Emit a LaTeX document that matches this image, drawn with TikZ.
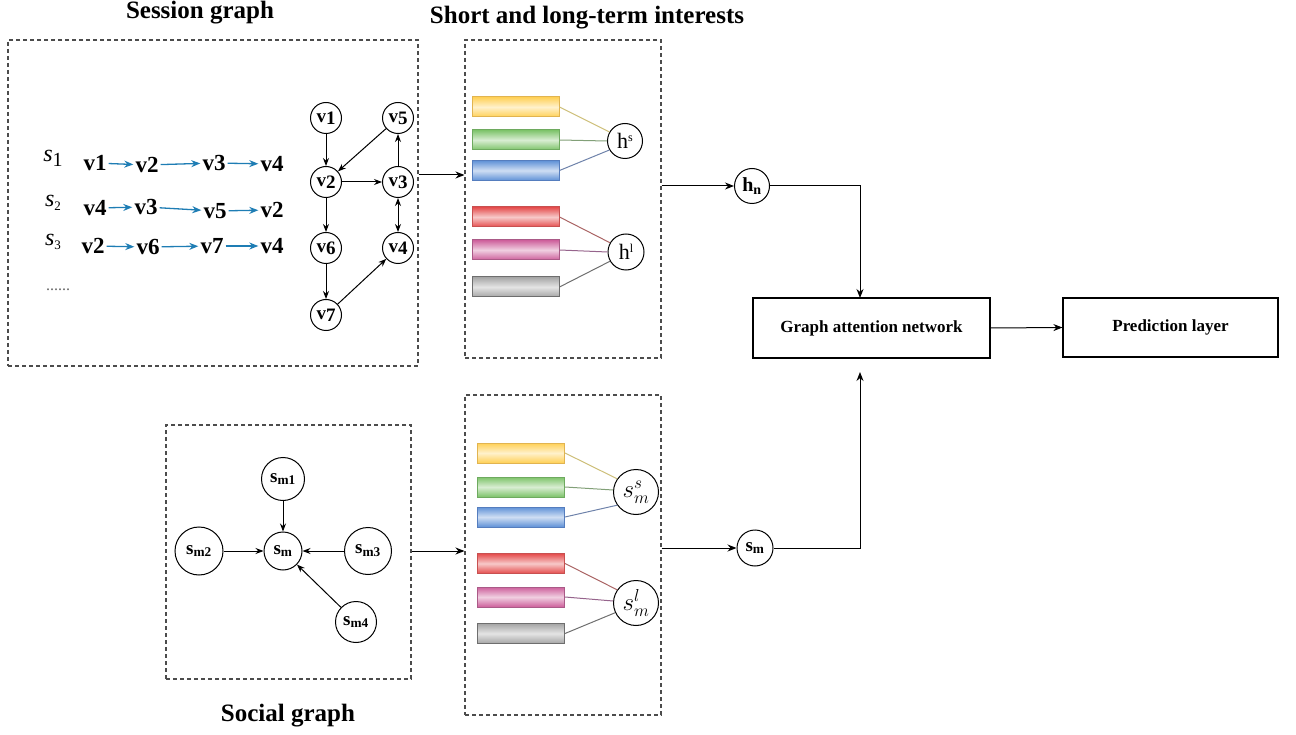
\documentclass[tikz,border=0pt]{standalone}
\usepackage{fontspec}
\setmainfont{Liberation Serif}
\usetikzlibrary{arrows.meta,shadings}
\definecolor{seqblue}{RGB}{30,125,180}
\definecolor{cyel}{RGB}{255,208,85}
\definecolor{cyelb}{RGB}{225,180,80}
\definecolor{cgrn}{RGB}{125,195,105}
\definecolor{cgrnb}{RGB}{110,170,95}
\definecolor{cblu}{RGB}{95,145,215}
\definecolor{cblub}{RGB}{85,125,190}
\definecolor{cred}{RGB}{228,75,75}
\definecolor{credb}{RGB}{200,80,80}
\definecolor{cpnk}{RGB}{205,95,155}
\definecolor{cpnkb}{RGB}{170,90,135}
\definecolor{cgry}{RGB}{165,165,165}
\definecolor{cgryb}{RGB}{110,110,110}
\definecolor{lyel}{RGB}{205,190,120}
\definecolor{lgrn}{RGB}{130,160,120}
\definecolor{lblu}{RGB}{110,130,170}
\definecolor{lred}{RGB}{170,100,100}
\definecolor{lpnk}{RGB}{150,100,140}
\definecolor{lgry}{RGB}{110,110,110}
\begin{document}
\begin{tikzpicture}[x=1pt,y=-1pt,
  dbox/.style={draw=black!70, dash pattern=on 4pt off 3pt, line width=1.1pt, inner sep=0pt},
  ttl/.style={font=\fontsize{25}{28}\selectfont\bfseries},
  vn/.style={circle, draw, line width=1pt, minimum size=31pt, inner sep=0pt, font=\fontsize{19}{20}\selectfont\bfseries},
  sq/.style={font=\fontsize{23}{24}\selectfont\bfseries, inner sep=1pt},
  sl/.style={font=\fontsize{24}{26}\selectfont, inner sep=1pt},
  barrow/.style={-{Stealth[length=9pt,width=7pt]}, draw=seqblue, line width=1.3pt, shorten <=1pt, shorten >=1pt},
  arr/.style={-{Stealth[length=9pt,width=7pt]}, line width=1pt},
  garr/.style={-{Stealth[length=8pt,width=6pt]}, line width=1pt},
  bar/.style n args={2}{minimum width=87pt, minimum height=20pt, inner sep=0pt, draw=#2, line width=1pt, top color=#1, bottom color=#1, middle color=#1!30!white},
  cn/.style={circle, draw, line width=1pt, inner sep=0pt, font=\fontsize{22}{24}\selectfont},
  sn/.style={circle, draw, line width=1pt, inner sep=0pt, font=\fontsize{19}{20}\selectfont\bfseries},
  blk/.style={draw, line width=1.2pt, inner sep=0pt, font=\fontsize{17}{20}\selectfont\bfseries}
]
\useasboundingbox (0,0) rectangle (1296,735);

% titles
\node[ttl] (t1) at (200,13) {Session graph};
\node[ttl] (t2) at (587,18) {Short and long-term interests};
\node[ttl] (t3) at (288,716) {Social graph};

% boxes
\node[dbox, minimum width=410pt, minimum height=326pt] (sess) at (213,203) {};
\node[dbox, minimum width=196pt, minimum height=318pt] (box2) at (563,199) {};
\node[dbox, minimum width=245pt, minimum height=254pt] (soc) at (288.5,552) {};
\node[dbox, minimum width=196pt, minimum height=320pt] (box4) at (563,555) {};

% sequences
\node[sl] (s1) at (53,158) {\itshape s\raisebox{-5pt}{\upshape\fontsize{20}{20}\selectfont 1}};
\node[sl] (s2) at (53,203) {\itshape s\raisebox{-4pt}{\upshape\fontsize{13}{13}\selectfont 2}};
\node[sl] (s3) at (53,242) {\itshape s\raisebox{-4pt}{\upshape\fontsize{13}{13}\selectfont 3}};

\node[sq] (a1) at (95,163) {v1};
\node[sq] (a2) at (147,165) {v2};
\node[sq] (a3) at (214,163) {v3};
\node[sq] (a4) at (272,164) {v4};
\node[sq] (b1) at (95,208) {v4};
\node[sq] (b2) at (146,207) {v3};
\node[sq] (b3) at (215,211) {v5};
\node[sq] (b4) at (272,210) {v2};
\node[sq] (c1) at (93,246) {v2};
\node[sq] (c2) at (148,247) {v6};
\node[sq] (c3) at (212,246) {v7};
\node[sq] (c4) at (272,246) {v4};
\draw[barrow] (a1) -- (a2);
\draw[barrow] (a2) -- (a3);
\draw[barrow] (a3) -- (a4);
\draw[barrow] (b1) -- (b2);
\draw[barrow] (b2) -- (b3);
\draw[barrow] (b3) -- (b4);
\draw[barrow] (c1) -- (c2);
\draw[barrow] (c2) -- (c3);
\draw[barrow] (c3) -- (c4);
\node[font=\fontsize{16}{16}\selectfont, text=black!60] (dots) at (58,290) {......};

% session graph
\node[vn] (v1) at (326,118) {v\raisebox{-2pt}{1}};
\node[vn] (v5) at (398,118) {v\raisebox{-2pt}{5}};
\node[vn] (v2) at (326,182) {v\raisebox{-2pt}{2}};
\node[vn] (v3) at (398,182) {v\raisebox{-2pt}{3}};
\node[vn] (v6) at (326,248) {v\raisebox{-2pt}{6}};
\node[vn] (v4) at (398,248) {v\raisebox{-2pt}{4}};
\node[vn] (v7) at (326,315) {v\raisebox{-2pt}{7}};
\draw[garr] (v1) -- (v2);
\draw[garr] (v5) -- (v2);
\draw[garr] (v2) -- (v3);
\draw[garr] (v3) -- (v5);
\draw[{Stealth[length=8pt,width=6pt]}-{Stealth[length=8pt,width=6pt]}, line width=1pt] (v3) -- (v4);
\draw[garr] (v2) -- (v6);
\draw[garr] (v6) -- (v7);
\draw[garr] (v7) -- (v4);

% interest bars (top)
\node[bar={cyel}{cyelb}] (y1) at (515.5,107) {};
\node[bar={cgrn}{cgrnb}] (g1) at (515.5,140) {};
\node[bar={cblu}{cblub}] (u1) at (515.5,170.5) {};
\node[bar={cred}{credb}] (r1) at (515.5,217) {};
\node[bar={cpnk}{cpnkb}] (p1) at (515.5,250) {};
\node[bar={cgry}{cgryb}] (k1) at (515.5,287) {};
\node[cn, minimum size=35pt] (hs) at (625,141) {h\raisebox{7pt}{\fontsize{12}{12}\selectfont s}};
\node[cn, minimum size=36pt] (hl) at (626,252) {h\raisebox{7pt}{\fontsize{12}{12}\selectfont l}};
\draw[lyel, line width=1pt] (y1.east) -- (hs.150);
\draw[lgrn, line width=1pt] (g1.east) -- (hs.west);
\draw[lblu, line width=1pt] (u1.east) -- (hs.210);
\draw[lred, line width=1pt] (r1.east) -- (hl.150);
\draw[lpnk, line width=1pt] (p1.east) -- (hl.west);
\draw[lgry, line width=1pt] (k1.east) -- (hl.210);

% interest bars (bottom)
\node[bar={cyel}{cyelb}] (y2) at (521,453) {};
\node[bar={cgrn}{cgrnb}] (g2) at (521,487) {};
\node[bar={cblu}{cblub}] (u2) at (521,517) {};
\node[bar={cred}{credb}] (r2) at (521,563.5) {};
\node[bar={cpnk}{cpnkb}] (p2) at (521,597) {};
\node[bar={cgry}{cgryb}] (k2) at (521,633.5) {};
\node[cn, minimum size=45pt, font=\fontsize{24}{26}\selectfont] (ss) at (636,492) {$s_m^s$};
\node[cn, minimum size=45pt, font=\fontsize{24}{26}\selectfont] (sl2) at (636,603) {$s_m^l$};
\draw[lyel, line width=1pt] (y2.east) -- (ss.145);
\draw[lgrn, line width=1pt] (g2.east) -- (ss.175);
\draw[lblu, line width=1pt] (u2.east) -- (ss.215);
\draw[lred, line width=1pt] (r2.east) -- (sl2.145);
\draw[lpnk, line width=1pt] (p2.east) -- (sl2.175);
\draw[lgry, line width=1pt] (k2.east) -- (sl2.205);

% social graph
\node[sn, minimum size=43pt] (sm1) at (283,479) {s\textsubscript{m1}};
\node[sn, minimum size=38pt] (sm) at (283,551) {s\textsubscript{m}};
\node[sn, minimum size=48pt] (sm2) at (199,551) {s\textsubscript{m2}};
\node[sn, minimum size=47pt] (sm3) at (368,551) {s\textsubscript{m3}};
\node[sn, minimum size=41pt] (sm4) at (356,622) {s\textsubscript{m4}};
\draw[garr] (sm1) -- (sm);
\draw[garr] (sm2) -- (sm);
\draw[garr] (sm3) -- (sm);
\draw[garr] (sm4) -- (sm);

% right side
\node[sn, minimum size=35pt, font=\fontsize{20}{20}\selectfont\bfseries] (hn) at (752,186) {h\textsubscript{n}};
\node[sn, minimum size=36pt] (smr) at (755,548) {s\textsubscript{m}};
\node[blk, minimum width=237pt, minimum height=60pt] (gat) at (871.5,328) {Graph attention network};
\node[blk, minimum width=215pt, minimum height=59pt] (pred) at (1170.5,327.5) {Prediction layer};
\coordinate (gin) at (860,298);
\coordinate (gbelow) at (860,372);

\coordinate (j1) at (0,175);
\draw[arr] (sess.east |- j1) -- (box2.west |- j1);
\draw[arr] (soc.east |- sm) -- (box4.west |- sm);
\draw[arr] (hn -| box2.east) -- (hn.west);
\draw[arr] (smr -| box4.east) -- (smr.west);
\draw[arr] (hn.east) -| (gin);
\draw[arr] (smr.east) -| (gbelow);
\draw[arr] (gat.east) -- (pred.west);
\end{tikzpicture}
\end{document}
